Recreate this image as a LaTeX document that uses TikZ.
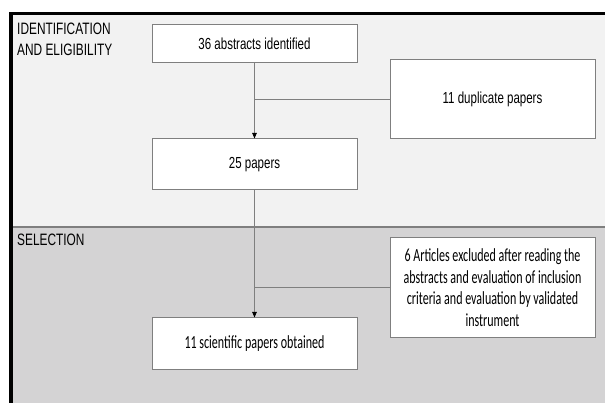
\documentclass[tikz,border=0pt]{standalone}
\usepackage{fontspec}
\setmainfont{Liberation Sans}
\newfontfamily\narrowfont[FakeStretch=0.72]{Liberation Sans}
\newfontfamily\calfont[FakeStretch=0.65]{Carlito}
\usepackage{tikz}
\usetikzlibrary{arrows.meta}
\definecolor{toppane}{HTML}{F2F2F2}
\definecolor{botpane}{HTML}{D4D3D4}
\definecolor{edgegray}{HTML}{7F7F7F}

\begin{document}
\begin{tikzpicture}[x=1pt,y=-1pt,
  stagebox/.style={draw=edgegray, line width=1pt, fill=white, minimum width=205pt, inner sep=0pt, align=center, font=\narrowfont\fontsize{16}{18}\selectfont},
  flow/.style={draw=edgegray, line width=0.8pt},
  flowtip/.style={-{Triangle[width=4.5pt,length=5.5pt,color=black]}},
  phase/.style={anchor=north west, align=left, inner sep=0pt, font=\narrowfont\fontsize{16.5}{21}\selectfont}
]
\useasboundingbox (0,0) rectangle (605,403);
% panes
\fill[toppane] (11,13) rectangle (605,227);
\fill[botpane] (11,227) rectangle (605,403);
\draw[edgegray, line width=1.2pt] (11,227) -- (605,227);
\draw[black, line width=3.5pt] (11,403) -- (11,13.3) -- (605,13.3);
% phase labels
\node[phase] (ident) at (17,22.5) {IDENTIFICATION\\AND ELIGIBILITY};
\node[phase] (select) at (17,234) {SELECTION};
% boxes
\node[stagebox, minimum height=38pt] (found) at (254.5,44) {36 abstracts identified};
\node[stagebox, minimum height=79pt] (dupl) at (492.5,99.5) {11 duplicate papers};
\node[stagebox, minimum height=51pt] (kept) at (254.5,164.5) {25 papers};
\node[stagebox, minimum height=99pt, font=\calfont\fontsize{18.5}{21.5}\selectfont] (excl) at (492.5,287.5) {6 Articles excluded after reading the\\abstracts and evaluation of inclusion\\criteria and evaluation by validated\\instrument};
\node[stagebox, minimum height=51pt, font=\calfont\fontsize{18.5}{21}\selectfont] (final) at (254.5,343.5) {11 scientific papers obtained};
% connectors
\draw[flow, flowtip] (found) -- (kept);
\draw[flow] (found.south |- dupl.west) -- (dupl.west);
\draw[flow, flowtip] (kept) -- (final);
\draw[flow] (kept.south |- excl.west) -- (excl.west);
\end{tikzpicture}
\end{document}
